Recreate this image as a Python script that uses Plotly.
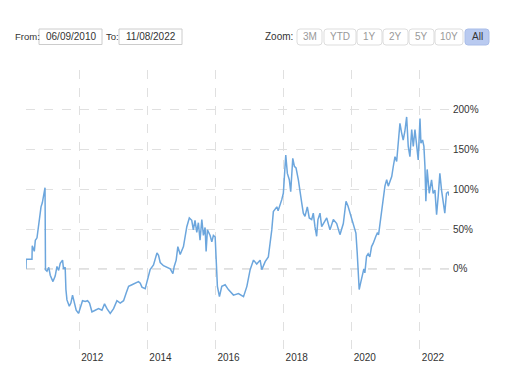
import plotly.graph_objects as go

# ---------------- data ----------------
DATES = [
    "2010-06-09", "2010-06-11", "2010-08-12", "2010-08-15", "2010-09-06", "2010-09-17",
    "2010-10-05", "2010-10-19", "2010-11-02", "2010-11-17", "2010-12-01", "2010-12-15",
    "2010-12-30", "2011-01-04", "2011-01-20", "2011-02-08", "2011-02-24", "2011-03-25",
    "2011-04-18", "2011-05-07", "2011-05-25", "2011-06-11", "2011-07-06", "2011-07-16",
    "2011-08-03", "2011-08-11", "2011-08-22", "2011-09-16", "2011-10-03", "2011-10-21",
    "2011-11-08", "2011-11-29", "2011-12-24", "2012-01-11", "2012-02-05", "2012-03-05",
    "2012-03-30", "2012-04-20", "2012-05-16", "2012-06-20", "2012-07-26", "2012-08-31",
    "2012-09-28", "2012-10-24", "2012-11-28", "2013-01-03", "2013-02-08", "2013-03-15",
    "2013-04-20", "2013-05-19", "2013-06-13", "2013-07-19", "2013-08-23", "2013-09-27",
    "2013-10-16", "2013-11-03", "2013-12-08", "2014-01-02", "2014-01-30", "2014-03-07",
    "2014-04-13", "2014-04-30", "2014-05-18", "2014-06-22", "2014-07-28", "2014-09-02",
    "2014-10-01", "2014-10-15", "2014-11-05", "2014-11-23", "2014-12-18", "2015-01-04",
    "2015-01-22", "2015-02-27", "2015-03-26", "2015-04-21", "2015-05-08", "2015-05-26",
    "2015-06-14", "2015-07-01", "2015-07-19", "2015-08-07", "2015-08-24", "2015-09-11",
    "2015-09-22", "2015-10-06", "2015-11-04", "2015-11-22", "2015-12-09", "2015-12-28",
    "2016-01-07", "2016-01-21", "2016-02-12", "2016-03-08", "2016-04-13", "2016-05-18",
    "2016-07-11", "2016-09-03", "2016-10-27", "2016-12-02", "2017-01-06", "2017-02-11",
    "2017-03-18", "2017-04-23", "2017-05-11", "2017-06-16", "2017-07-20", "2017-08-08",
    "2017-08-26", "2017-09-12", "2017-10-19", "2017-11-02", "2017-11-23", "2017-12-11",
    "2017-12-28", "2018-01-05", "2018-01-23", "2018-02-09", "2018-03-02", "2018-03-17",
    "2018-04-08", "2018-04-25", "2018-05-13", "2018-06-07", "2018-06-25", "2018-07-13",
    "2018-07-30", "2018-08-17", "2018-09-11", "2018-10-02", "2018-10-28", "2018-11-14",
    "2018-12-02", "2018-12-20", "2019-01-03", "2019-01-25", "2019-02-12", "2019-03-01",
    "2019-04-07", "2019-05-12", "2019-06-17", "2019-07-23", "2019-08-27", "2019-10-02",
    "2019-10-31", "2019-11-21", "2019-12-12", "2020-01-06", "2020-01-24", "2020-02-14",
    "2020-02-28", "2020-03-10", "2020-03-20", "2020-04-04", "2020-04-15", "2020-04-21",
    "2020-05-09", "2020-05-20", "2020-06-07", "2020-06-24", "2020-07-12", "2020-07-31",
    "2020-08-17", "2020-09-15", "2020-09-30", "2020-10-14", "2020-11-05", "2020-11-16",
    "2020-12-03", "2020-12-21", "2021-01-09", "2021-01-26", "2021-02-14", "2021-03-04",
    "2021-03-21", "2021-04-08", "2021-04-26", "2021-05-13", "2021-05-31", "2021-06-18",
    "2021-07-05", "2021-07-23", "2021-08-11", "2021-08-28", "2021-09-15", "2021-10-04",
    "2021-10-21", "2021-11-08", "2021-11-26", "2021-12-13", "2022-01-01", "2022-01-11",
    "2022-01-29", "2022-02-12", "2022-02-23", "2022-03-05", "2022-03-19", "2022-04-10",
    "2022-05-05", "2022-05-22", "2022-06-10", "2022-06-28", "2022-07-15", "2022-08-02",
    "2022-08-20", "2022-09-06", "2022-09-24", "2022-10-12", "2022-10-30", "2022-11-08",
]
VALUES = [
    0, 12, 12, 29, 22, 36,
    39, 53, 59, 78, 83, 95,
    102, -1, -3, 2, -8, -16,
    -9, 3, -2, 7, 11, 0,
    2, -26, -39, -47, -43, -33,
    -43, -52, -56, -50, -40, -41,
    -40, -43, -54, -52, -50, -52,
    -44, -50, -56, -50, -40, -43,
    -40, -30, -22, -20, -18, -16,
    -18, -23, -25, -14, -1, 5,
    20, 17, 8, 4, 2, 0,
    -6, 3, 11, 28, 18, 24,
    28, 53, 64, 61, 49, 61,
    46, 58, 36, 62, 42, 52,
    22, 49, 42, 34, 42, 40,
    3, -22, -35, -22, -20, -26,
    -33, -31, -35, -22, -1, 11,
    6, 11, -1, 9, 15, 30,
    49, 72, 78, 73, 80, 87,
    95, 116, 143, 120, 112, 97,
    139, 129, 127, 112, 95, 83,
    70, 66, 78, 64, 62, 70,
    53, 41, 62, 70, 53, 57,
    64, 49, 62, 57, 43, 57,
    85, 79, 70, 62, 53, 45,
    20, -14, -26, -18, -13, -10,
    0, -5, 16, 19, 15, 28,
    32, 41, 45, 43, 62, 78,
    87, 104, 112, 104, 110, 116,
    129, 141, 135, 156, 183, 171,
    162, 173, 191, 154, 141, 175,
    154, 175, 150, 137, 189, 158,
    162, 154, 129, 85, 125, 95,
    112, 95, 99, 68, 91, 120,
    99, 83, 70, 95, 97, 92,
]

X_TICKS = ["2012-01-01", "2014-01-01", "2016-01-01", "2018-01-01", "2020-01-01", "2022-01-01"]
X_TICK_TEXT = ["2012", "2014", "2016", "2018", "2020", "2022"]
Y_TICKS = [0, 50, 100, 150, 200, 250]
Y_TICK_TEXT = ["0%", "50%", "100%", "150%", "200%", ""]

FROM_DATE = "06/09/2010"
TO_DATE = "11/08/2022"
ZOOM_BUTTONS = ["3M", "YTD", "1Y", "2Y", "5Y", "10Y", "All"]
ACTIVE_BUTTON = "All"

# ---------------- layout helpers ----------------
W, H = 513, 376
L, R, T, B = 26, 64, 70, 26
PW, PH = W - L - R, H - T - B
FONT = "Liberation Sans, Arial, sans-serif"


def px(x):
    return (x - L) / PW


def py(y):
    return (H - B - y) / PH


def rounded_rect(x0, y0, x1, y1, r):
    X0, X1 = px(x0), px(x1)
    Y0, Y1 = py(y0), py(y1)
    rx, ry = r / PW, r / PH
    return (f"M {X0+rx},{Y0} L {X1-rx},{Y0} Q {X1},{Y0} {X1},{Y0-ry} "
            f"L {X1},{Y1+ry} Q {X1},{Y1} {X1-rx},{Y1} L {X0+rx},{Y1} "
            f"Q {X0},{Y1} {X0},{Y1+ry} L {X0},{Y0-ry} Q {X0},{Y0} {X0+rx},{Y0} Z")


fig = go.Figure()
fig.add_trace(go.Scatter(
    x=DATES, y=VALUES, mode="lines",
    line=dict(color="#6ca6dd", width=1.5),
    hoverinfo="skip", showlegend=False,
))

shapes = []
annotations = []

# zero reference line (darker dashed)
shapes.append(dict(type="line", xref="paper", yref="y", x0=0, x1=1, y0=0, y1=0,
                   line=dict(color="#bbbbbb", width=1, dash="dash"), layer="below"))

# From / To inputs
annotations.append(dict(text="From:", x=px(13), y=py(37), xref="paper", yref="paper",
                        xanchor="left", yanchor="middle", showarrow=False,
                        font=dict(family=FONT, size=9.5, color="#333333")))
for (x0, x1), txt in [((39, 102), FROM_DATE), ((119, 182), TO_DATE)]:
    shapes.append(dict(type="rect", xref="paper", yref="paper",
                       x0=px(x0), x1=px(x1), y0=py(44.5), y1=py(29),
                       line=dict(color="#cccccc", width=1), fillcolor="white"))
    annotations.append(dict(text=txt, x=px((x0 + x1) / 2), y=py(37), xref="paper", yref="paper",
                            xanchor="center", yanchor="middle", showarrow=False,
                            font=dict(family=FONT, size=10, color="#333333")))
annotations.append(dict(text="To:", x=px(104), y=py(37), xref="paper", yref="paper",
                        xanchor="left", yanchor="middle", showarrow=False,
                        font=dict(family=FONT, size=9.5, color="#333333")))

# Zoom buttons
annotations.append(dict(text="Zoom:", x=px(295), y=py(37), xref="paper", yref="paper",
                        xanchor="right", yanchor="middle", showarrow=False,
                        font=dict(family=FONT, size=10, color="#333333")))
btn_spans = [(297, 322), (324, 356), (357, 382), (383, 408), (409, 434), (435, 463), (465, 489)]
for (x0, x1), lab in zip(btn_spans, ZOOM_BUTTONS):
    active = lab == ACTIVE_BUTTON
    shapes.append(dict(type="path", xref="paper", yref="paper",
                       path=rounded_rect(x0, 29, x1, 45, 3),
                       line=dict(color="#a9bde8" if active else "#dddddd", width=1),
                       fillcolor="#b9caf0" if active else "white"))
    annotations.append(dict(text=lab, x=px((x0 + x1) / 2), y=py(37), xref="paper", yref="paper",
                            xanchor="center", yanchor="middle", showarrow=False,
                            font=dict(family=FONT, size=10, color="#333333" if active else "#999999")))

fig.update_layout(
    width=W, height=H,
    margin=dict(l=L, r=R, t=T, b=B),
    paper_bgcolor="white", plot_bgcolor="white",
    font=dict(family=FONT, size=10, color="#333333"),
    shapes=shapes, annotations=annotations,
    showlegend=False,
    xaxis=dict(
        type="date", range=[DATES[0], DATES[-1]],
        tickmode="array", tickvals=X_TICKS, ticktext=X_TICK_TEXT,
        showgrid=True, gridcolor="#e0e0e0", griddash="dash", gridwidth=1,
        zeroline=False, showline=False, ticks="",
        ticklabelshift=13,
        tickfont=dict(family=FONT, size=10, color="#333333"),
    ),
    yaxis=dict(
        range=[-102, 250], side="right",
        tickmode="array", tickvals=Y_TICKS, ticktext=Y_TICK_TEXT,
        showgrid=True, gridcolor="#e0e0e0", griddash="dash", gridwidth=1,
        zeroline=False, showline=False, ticks="",
        ticklabelstandoff=3,
        tickfont=dict(family=FONT, size=10, color="#333333"),
    ),
)

fig.write_html(
    "out.html",
    config={"displayModeBar": False},
    post_script="document.body.style.margin='0px';document.body.style.overflow='hidden';",
)
